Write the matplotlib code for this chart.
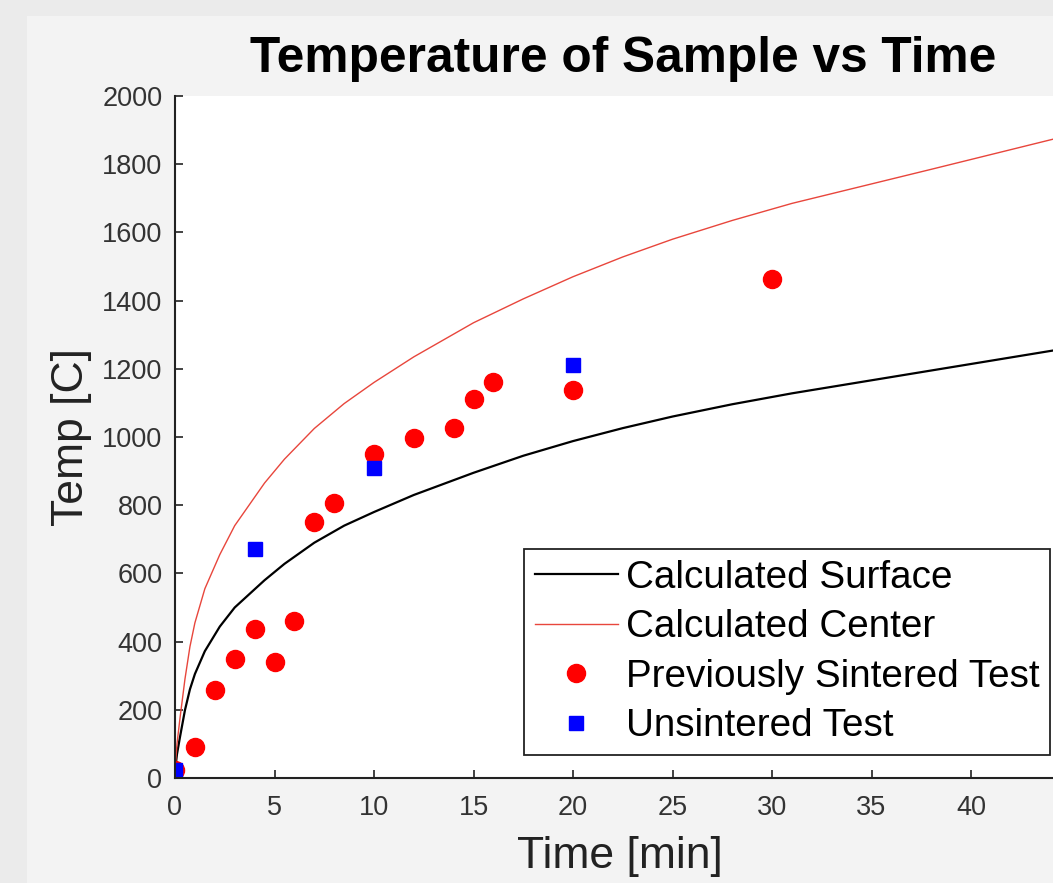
import matplotlib
matplotlib.use("Agg")
import matplotlib.pyplot as plt
from matplotlib.patches import Rectangle

plt.rcParams['font.family'] = ['Liberation Sans', 'DejaVu Sans']

# ---- data ----
t_calc = [0, 0.1, 0.25, 0.5, 0.75, 1, 1.5, 2.25, 3, 4.5, 5.5, 7, 8.5, 10, 12, 15,
          17.5, 20, 22.5, 25, 28, 31, 38, 45]
surface_temp = [20, 70, 120, 199, 260, 305, 372, 444, 500, 580, 628, 690, 740, 780, 830, 895,
                945, 988, 1026, 1060, 1096, 1128, 1195, 1262]
center_temp = [20, 100, 175, 290, 385, 455, 555, 655, 740, 865, 935, 1025, 1098, 1160, 1235, 1335,
               1405, 1470, 1528, 1580, 1635, 1685, 1785, 1886]

t_prev = [0, 1, 2, 3, 4, 5, 6, 7, 8, 10, 12, 14, 15, 16, 20, 30]
temp_prev = [22, 90, 257, 350, 436, 340, 460, 752, 806, 950, 997, 1026, 1112, 1160, 1138, 1463]

t_unsint = [0, 4, 10, 20]
temp_unsint = [22, 672, 910, 1212]

labels = ['Calculated Surface', 'Calculated Center', 'Previously Sintered Test', 'Unsintered Test']
x_ticks = [0, 5, 10, 15, 20, 25, 30, 35, 40]
y_ticks = [0, 200, 400, 600, 800, 1000, 1200, 1400, 1600, 1800, 2000]

W, H = 1053, 883
fig = plt.figure(figsize=(W / 100, H / 100), dpi=100)
fig.patch.set_facecolor('#ebebeb')
fig.add_artist(Rectangle((27 / W, 0), 1, (H - 16) / H, transform=fig.transFigure,
                         facecolor='#f3f3f3', edgecolor='none', zorder=-10))

ax = fig.add_axes([175 / W, (H - 778) / H, 895.5 / W, 682 / H])
ax.set_facecolor('white')

ax.plot(t_calc, surface_temp, color='black', lw=1.6, label=labels[0])
ax.plot(t_calc, center_temp, color='#e8463c', lw=1.0, label=labels[1])
ax.plot(t_prev, temp_prev, 'o', color='#ff0000', mec='#ff0000', ms=13, label=labels[2])
ax.plot(t_unsint, temp_unsint, 's', color='#0000ff', mec='#0000ff', ms=10, label=labels[3])

ax.set_xlim(0, 45)
ax.set_ylim(0, 2000)
ax.set_xticks(x_ticks)
ax.set_yticks(y_ticks)
for s in ['top', 'right']:
    ax.spines[s].set_visible(False)
for s in ['left', 'bottom']:
    ax.spines[s].set_color('#222222')
    ax.spines[s].set_linewidth(1.5)
ax.tick_params(axis='both', direction='in', length=6, width=1.2, colors='#222222',
               labelsize=19.5, labelcolor='#333333')
ax.tick_params(axis='y', pad=9)
ax.tick_params(axis='x', pad=12)

ax.set_xlabel('Time [min]', fontsize=32, color='#222222')
ax.set_ylabel('Temp [C]', fontsize=32, color='#222222')
ax.xaxis.set_label_coords(0.497, -0.085)
ax.yaxis.set_label_coords(-0.093, 0.5)

ax.set_title('Temperature of Sample vs Time', fontsize=35.7, fontweight='bold',
             color='black', y=1.035, pad=0)

leg = ax.legend(loc='lower right', bbox_to_anchor=(1050 / W, (H - 755) / H),
                bbox_transform=fig.transFigure, fontsize=27.8, frameon=True,
                fancybox=False, framealpha=1, edgecolor='#222222',
                handlelength=2.15, handletextpad=0.2, labelspacing=0.35,
                borderpad=0.28, borderaxespad=0)
leg.get_frame().set_linewidth(1.3)

fig.savefig('out.png', dpi=100, facecolor=fig.get_facecolor())
